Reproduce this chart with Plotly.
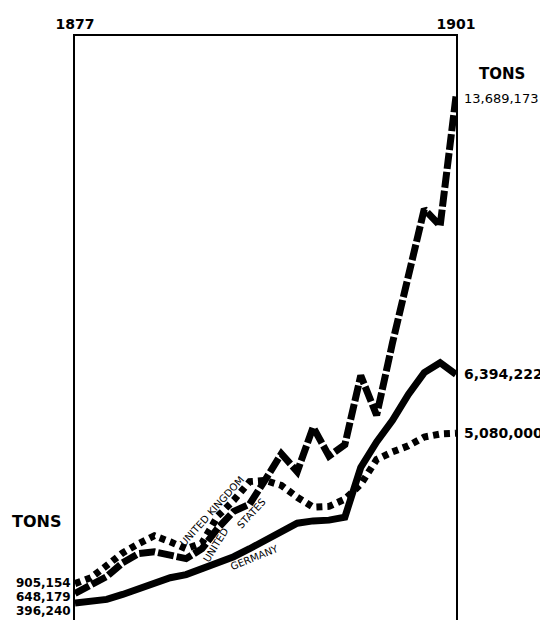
import plotly.graph_objects as go

# production in millions of tons
years = list(range(1877, 1902))
united_states = [0.648, 0.86, 1.09, 1.45, 1.69, 1.74, 1.64, 1.56, 1.82, 2.36, 2.80, 2.99, 3.64,
                 4.31, 3.84, 5.01, 4.25, 4.55, 6.36, 5.32, 7.22, 8.99, 10.73, 10.29, 13.689]
united_kingdom = [0.905, 1.06, 1.38, 1.71, 1.95, 2.16, 2.00, 1.82, 1.97, 2.68, 3.09, 3.58, 3.61,
                  3.48, 3.17, 2.91, 2.93, 3.12, 3.51, 4.16, 4.36, 4.52, 4.75, 4.83, 4.85]
germany = [0.396, 0.42, 0.49, 0.62, 0.78, 0.94, 1.06, 1.14, 1.30, 1.45, 1.61, 1.82, 2.03,
           2.26, 2.49, 2.55, 2.57, 2.65, 3.95, 4.62, 5.19, 5.87, 6.44, 6.70, 6.394]

start_labels = ["905,154", "648,179", "396,240"]
end_labels = {"us": "13,689,173", "de": "6,394,222", "uk": "5,080,000"}

FONT = "DejaVu Sans, sans-serif"


def steel_chart():
    fig = go.Figure()
    fig.add_trace(go.Scatter(x=years, y=germany, mode="lines", name="Germany",
                             line=dict(color="black", width=7)))
    fig.add_trace(go.Scatter(x=years, y=united_kingdom, mode="lines", name="United Kingdom",
                             line=dict(color="black", width=7, dash="6px,5px")))
    fig.add_trace(go.Scatter(x=years, y=united_states, mode="lines", name="United States",
                             line=dict(color="black", width=7, dash="16px,3px")))

    # tonnage labels at both ends
    ann = [
        dict(x=1901, y=united_states[-1], text=end_labels["us"], xanchor="left", yanchor="middle",
             xshift=6, yshift=-2, font=dict(size=13)),
        dict(x=1901, y=united_states[-1], text="<b>TONS</b>", xanchor="left", yanchor="middle",
             xshift=21, yshift=22, font=dict(size=15)),
        dict(x=1901, y=germany[-1], text="<b>" + end_labels["de"] + "</b>", xanchor="left", xshift=6,
             font=dict(size=14)),
        dict(x=1901, y=united_kingdom[-1], text="<b>" + end_labels["uk"] + "</b>", xanchor="left",
             xshift=6, font=dict(size=14)),
        dict(xref="paper", yref="paper", x=-0.1, y=0.169, text="<b>TONS</b>", xanchor="center",
             yanchor="middle", font=dict(size=16)),
    ]
    for i, lab in enumerate(start_labels):
        ann.append(dict(xref="paper", yref="paper", x=-0.004, y=0.064 - i * 0.0245, text="<b>" + lab + "</b>",
                        xanchor="right", yanchor="middle", font=dict(size=12)))

    # series names written along the lines
    ann += [
        dict(x=1885.6, y=2.80, text="UNITED KINGDOM", textangle=-48, font=dict(size=10)),
        dict(x=1885.9, y=1.92, text="UNITED", textangle=-58, font=dict(size=10)),
        dict(x=1888.1, y=2.75, text="STATES", textangle=-47, font=dict(size=10)),
        dict(x=1888.3, y=1.60, text="GERMANY", textangle=-22, font=dict(size=10)),
    ]
    for a in ann:
        a.setdefault("showarrow", False)
        a["font"] = dict(family=FONT, color="black", size=a["font"]["size"])

    # page body adds an 8px offset, so margins are trimmed to match
    fig.update_layout(
        width=548, height=620,
        margin=dict(l=67, r=100, t=22, b=8),
        plot_bgcolor="white", paper_bgcolor="white",
        showlegend=False,
        annotations=ann,
        font=dict(family=FONT, color="black"),
    )
    fig.update_xaxes(range=[1877, 1901], side="top", tickvals=[1877, 1901],
                     ticktext=["<b>1877</b>", "<b>1901</b>"], tickfont=dict(size=14),
                     showgrid=False, zeroline=False, showline=True, linecolor="black",
                     linewidth=1.5, ticks="")
    fig.update_yaxes(range=[-0.05, 15.27], showticklabels=False, showgrid=False, zeroline=False,
                     showline=True, mirror=True, linecolor="black", linewidth=1.5, ticks="")
    fig.write_html("out.html")


if __name__ == '__main__':
    steel_chart()
